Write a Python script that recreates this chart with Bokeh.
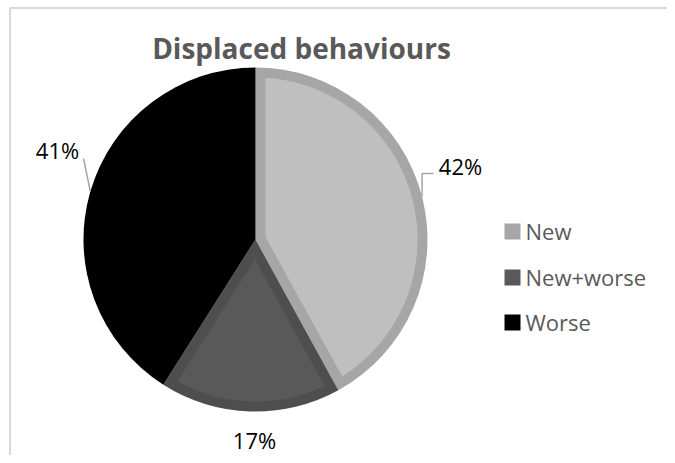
import numpy as np
from bokeh.plotting import figure
from bokeh.models import Range1d
from bokeh.core.properties import value
from bokeh.embed import file_html
from bokeh.resources import INLINE

# ---- data ----
categories = ["New", "New+worse", "Worse"]
shares = [42, 17, 41]
labels = ["42%", "17%", "41%"]
title_text = "Displaced behaviours"

# ---- styles / layout ----
fill_colors = ["#bfbfbf", "#595959", "#000000"]
band_colors = ["#a6a6a6", "#4e4e4e", "#000000"]
swatch_colors = ["#a6a6a6", "#595959", "#000000"]
W, H = 667, 455
def X(px): return px
def Y(py): return H - py
CX, CY, R, BAND = X(255), Y(239), 172, 10
label_pos = [(460, 165), (254, 439), (57, 149)]
FONT = "Open Sans"

p = figure(width=W, height=H, output_backend="svg", toolbar_location=None,
           x_range=Range1d(0, W), y_range=Range1d(0, H),
           x_axis_type=None, y_axis_type=None, min_border=0)
p.outline_line_color = None
p.background_fill_color = "white"
p.border_fill_color = "white"
p.grid.visible = False

# chart border (left and top visible)
p.line([X(9.5), X(9.5)], [Y(470), Y(7.5)], line_color="#d9d9d9", line_width=2)
p.line([X(9.5), X(680)], [Y(7.5), Y(7.5)], line_color="#d9d9d9", line_width=2)

# ---- pie ----
fr = np.array(shares, dtype=float) / sum(shares)
ends = np.cumsum(fr) * 2 * np.pi
starts = ends - fr * 2 * np.pi  # compass angles, clockwise from top

for i in range(len(categories)):
    a, b = starts[i], ends[i]
    # outer wedge (band colour)
    p.wedge(x=CX, y=CY, radius=R, start_angle=np.pi / 2 - b, end_angle=np.pi / 2 - a,
            direction="anticlock", fill_color=band_colors[i], line_color=None)
    # inset wedge (fill colour)
    d = BAND
    det = np.sin(b - a)
    ax = d * (np.sin(a) + np.sin(b)) / det
    ay = d * (np.cos(a) + np.cos(b)) / det
    off = np.arcsin(d / (R - d))
    t = np.linspace(a + off, b - off, 200)
    xs = [CX + ax] + list(CX + (R - d) * np.sin(t))
    ys = [CY + ay] + list(CY + (R - d) * np.cos(t))
    p.patch(xs, ys, fill_color=fill_colors[i], line_color=None)

# ---- leader lines ----
mids = (starts + ends) / 2
ex0, ey0 = CX + R * np.sin(mids[0]), CY + R * np.cos(mids[0])
p.line([ex0, ex0, X(433)], [ey0, Y(173), Y(173)], line_color="#a6a6a6", line_width=1.5)
ex2, ey2 = CX + R * np.sin(mids[2]), CY + R * np.cos(mids[2])
p.line([ex2, X(83)], [ey2, Y(158)], line_color="#a6a6a6", line_width=1.5)

# ---- percent labels ----
p.text(x=[X(q[0]) for q in label_pos], y=[Y(q[1]) for q in label_pos], text=labels,
       text_font=value(FONT), text_font_size="22px", text_color="#000000",
       text_align="center", text_baseline="middle")

# ---- title ----
p.text(x=[X(301)], y=[Y(47)], text=[title_text], text_font=value(FONT),
       text_font_size="28px", text_font_style="bold", text_color="#595959",
       text_align="center", text_baseline="alphabetic")

# ---- legend ----
leg_y = [231, 277, 322]
p.scatter(x=[X(512)] * 3, y=[Y(v) for v in leg_y], marker="square", size=16,
          fill_color=swatch_colors, line_color=None)
p.text(x=[X(525)] * 3, y=[Y(v) + 1 for v in leg_y], text=categories,
       text_font=value(FONT), text_font_size="22px", text_color="#595959",
       text_align="left", text_baseline="middle")

open("out.html", "w").write(file_html(p, INLINE))
